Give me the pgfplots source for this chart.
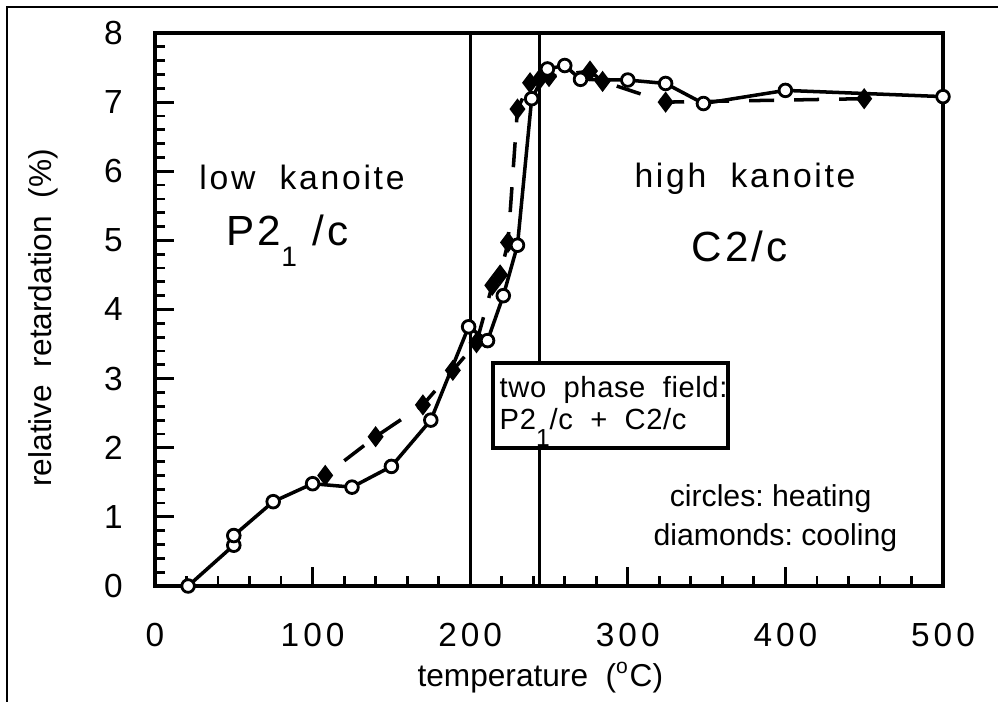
\documentclass[border=0pt]{standalone}
\usepackage{fontspec}
\setmainfont{Liberation Sans}
\newfontfamily\tickfont[LetterSpace=12]{Liberation Sans}
\newfontfamily\annfont[LetterSpace=8,Ligatures=NoCommon]{Liberation Sans}
\newfontfamily\boxfont[LetterSpace=2,Ligatures=NoCommon]{Liberation Sans}
\usepackage{pgfplots}
\pgfplotsset{compat=1.18}

\begin{document}
\begin{tikzpicture}
\path[use as bounding box] (0,0) rectangle (9.98,-7.02);
% scanned frame, top and left edge only
\draw[line width=0.6pt] (0.07,-7.2) -- (0.07,-0.07) -- (10.2,-0.07);
\begin{axis}[
  at={(1.55cm,-5.86cm)}, anchor=south west,
  scale only axis, width=7.88cm, height=5.53cm,
  xmin=0, xmax=500, ymin=0, ymax=8,
  xtick={0,100,...,500}, ytick={0,1,...,8},
  minor x tick num=4, minor y tick num=4,
  tick pos=left, tick align=inside,
  major tick length=0.19cm, minor tick length=0.1cm,
  axis line style={line width=0.9pt},
  tick style={black, line width=0.8pt},
  ticklabel style={font=\fontsize{9.5}{11}\tickfont},
  /pgf/number format/assume math mode=true,
  yticklabel style={xshift=-0.2cm},
  xticklabel style={yshift=-0.25cm},
  xlabel={temperature~~(\textsuperscript{o}C)},
  ylabel={relative~~retardation~~(\%)},
  label style={font=\fontsize{9}{11}\selectfont},
  xlabel style={at={(axis description cs:0.489,-0.166)}, anchor=center},
  ylabel style={at={(axis description cs:-0.142,0.485)}, anchor=center},
  clip=false,
]
% phase boundaries
\draw[line width=0.75pt] (axis cs:200,0) -- (axis cs:200,8);
\draw[line width=0.75pt] (axis cs:244,0) -- (axis cs:244,8);

% cooling (diamonds, dashed)
\addplot[black, line width=1pt, dash pattern=on 0.25cm off 0.2cm,
  mark=diamond*, mark size=2.2pt, mark options={solid, fill=black}]
  coordinates {(450,7.05) (324,7.00) (284,7.30) (276,7.45) (250,7.37)
  (244,7.33) (238,7.28) (230,6.90) (224,4.97) (219,4.50) (214,4.35)
  (204,3.52) (189,3.12) (170,2.62) (140,2.16) (108,1.60)};

% heating (circles, solid)
\addplot[black, line width=1pt,
  mark=*, mark size=1.8pt, mark options={fill=white, line width=0.8pt}]
  coordinates {(21,0) (50,0.59) (50,0.73) (75,1.22) (100,1.48) (125,1.43)
  (150,1.73) (175,2.40) (199,3.75) (211,3.55) (221,4.20) (230,4.93)
  (239,7.05) (249,7.48) (260,7.53) (270,7.33) (300,7.32) (324,7.27)
  (348,6.98) (400,7.17) (500,7.08)};

% two phase field box
\draw[line width=0.9pt, fill=white] (axis cs:214.5,1.996) rectangle (axis cs:363.6,3.226);
\node[anchor=base west, inner sep=0, font=\fontsize{8.3}{10}\boxfont] at (axis cs:218.3,2.734) {two~~phase~~field:};
\node[anchor=base west, inner sep=0, font=\fontsize{8.3}{10}\boxfont] at (axis cs:218.3,2.257) {P2\raisebox{-0.55em}{\scriptsize 1}/c~~+~~C2/c};

% phase labels
\node[anchor=base, inner sep=0, font=\fontsize{9.6}{11}\annfont] at (axis cs:93.3,5.73) {low~~kanoite};
\node[anchor=base, inner sep=0, font=\fontsize{12}{14}\annfont] at (axis cs:84,4.93) {P2\raisebox{-0.5em}{\footnotesize 1}~/c};
\node[anchor=base, inner sep=0, font=\fontsize{9.6}{11}\annfont] at (axis cs:374.4,5.77) {high~~kanoite};
\node[anchor=base, inner sep=0, font=\fontsize{12}{14}\annfont] at (axis cs:371,4.69) {C2/c};

% key
\node[anchor=base east, inner sep=0, font=\fontsize{8.6}{10}\selectfont] at (axis cs:455,1.143) {circles:~heating};
\node[anchor=base east, inner sep=0, font=\fontsize{8.6}{10}\selectfont] at (axis cs:471.4,0.593) {diamonds:~cooling};
\end{axis}
\end{tikzpicture}
\end{document}
